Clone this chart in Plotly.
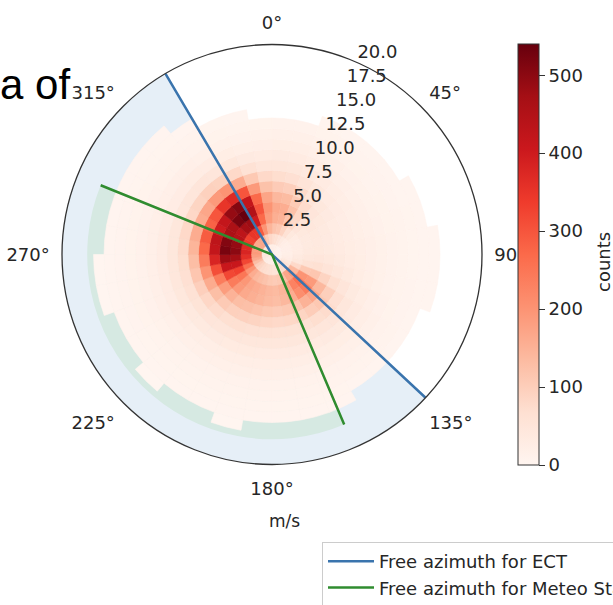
import plotly.graph_objects as go

# ---------------- data ----------------
speed_edges = list(range(0, 19))            # m/s bin edges
dir_centers = list(range(5, 360, 10))       # direction bin centres (deg)
dir_width = 10

counts = [
    [22, 70, 120, 155, 165, 140, 105, 72, 48, 34, 24, 16, 10, 0, 0, 0, 0, 0],   # 5
    [22, 65, 112, 148, 158, 133, 98, 66, 45, 32, 22, 15, 9, 0, 0, 0, 0, 0],     # 15
    [18, 50, 90, 118, 124, 106, 78, 54, 38, 27, 18, 12, 8, 4, 0, 0, 0, 0],      # 25
    [15, 35, 60, 78, 84, 74, 55, 42, 31, 22, 15, 10, 6, 3, 0, 0, 0, 0],         # 35
    [12, 25, 40, 50, 55, 50, 42, 32, 25, 18, 12, 8, 5, 3, 0, 0, 0, 0],          # 45
    [10, 20, 30, 40, 45, 40, 34, 28, 22, 16, 11, 7, 5, 3, 0, 0, 0, 0],          # 55
    [10, 18, 28, 35, 40, 36, 30, 25, 20, 15, 11, 8, 5, 3, 2, 0, 0, 0],          # 65
    [10, 18, 28, 35, 38, 34, 30, 25, 20, 16, 12, 8, 6, 4, 2, 0, 0, 0],          # 75
    [10, 20, 30, 38, 40, 36, 32, 27, 22, 18, 13, 9, 6, 4, 3, 2, 0, 0],          # 85
    [12, 22, 35, 45, 48, 42, 36, 30, 24, 18, 13, 9, 6, 4, 3, 2, 0, 0],          # 95
    [14, 28, 45, 60, 65, 55, 45, 35, 27, 20, 14, 10, 7, 5, 3, 2, 0, 0],         # 105
    [15, 40, 80, 110, 115, 90, 68, 50, 36, 26, 18, 12, 8, 5, 3, 0, 0, 0],       # 115
    [18, 60, 140, 200, 190, 140, 98, 66, 46, 32, 22, 15, 10, 6, 3, 0, 0, 0],    # 125
    [20, 80, 190, 260, 240, 170, 112, 75, 50, 35, 24, 16, 10, 6, 3, 0, 0, 0],   # 135
    [20, 75, 170, 230, 210, 150, 102, 70, 48, 34, 24, 16, 10, 6, 3, 0, 0, 0],   # 145
    [18, 60, 130, 170, 160, 120, 88, 60, 44, 32, 22, 15, 10, 6, 4, 2, 0, 0],    # 155
    [18, 55, 110, 145, 140, 110, 82, 58, 44, 32, 22, 15, 10, 7, 4, 2, 0, 0],    # 165
    [18, 55, 105, 135, 130, 105, 80, 58, 44, 32, 22, 15, 10, 7, 4, 2, 0, 0],    # 175
    [20, 60, 110, 140, 135, 110, 84, 60, 45, 32, 22, 15, 10, 7, 4, 2, 0, 0],    # 185
    [20, 65, 120, 150, 145, 118, 90, 64, 46, 33, 22, 15, 10, 7, 4, 2, 1, 0],    # 195
    [22, 70, 130, 160, 155, 125, 94, 67, 47, 33, 22, 15, 10, 7, 4, 2, 0, 0],    # 205
    [22, 75, 140, 170, 165, 130, 97, 68, 48, 34, 23, 15, 10, 7, 4, 2, 0, 0],    # 215
    [25, 85, 160, 195, 190, 150, 108, 74, 50, 35, 23, 15, 10, 7, 4, 2, 1, 0],   # 225
    [30, 100, 200, 250, 240, 185, 128, 84, 56, 38, 25, 16, 11, 7, 4, 2, 0, 0],  # 235
    [35, 130, 260, 330, 320, 240, 162, 98, 60, 42, 28, 18, 12, 8, 5, 2, 0, 0],  # 245
    [40, 160, 320, 410, 410, 310, 200, 115, 66, 44, 28, 18, 12, 8, 5, 2, 1, 0], # 255
    [45, 180, 360, 470, 480, 380, 240, 130, 70, 45, 28, 18, 12, 8, 5, 2, 1, 0], # 265
    [45, 190, 380, 500, 520, 420, 270, 145, 75, 46, 28, 18, 12, 8, 5, 2, 0, 0], # 275
    [45, 185, 370, 490, 510, 430, 290, 160, 80, 46, 28, 18, 12, 8, 5, 2, 0, 0], # 285
    [40, 170, 340, 440, 460, 400, 280, 160, 82, 46, 28, 18, 12, 8, 4, 2, 0, 0], # 295
    [40, 165, 330, 430, 460, 420, 300, 170, 88, 48, 28, 18, 11, 7, 4, 2, 0, 0], # 305
    [40, 170, 350, 470, 520, 490, 350, 190, 95, 50, 30, 18, 11, 7, 4, 2, 0, 0], # 315
    [40, 170, 350, 480, 540, 510, 370, 200, 92, 48, 28, 16, 10, 6, 3, 0, 0, 0], # 325
    [35, 140, 290, 400, 450, 420, 300, 160, 80, 42, 24, 14, 8, 4, 0, 0, 0, 0],  # 335
    [28, 100, 200, 270, 300, 270, 190, 110, 60, 34, 20, 12, 7, 3, 0, 0, 0, 0],  # 345
    [24, 80, 145, 185, 200, 172, 122, 80, 48, 32, 21, 14, 8, 0, 0, 0, 0, 0],    # 355
]

ect_azimuth = [329.5, 133.0]     # free azimuth limits for ECT (deg)
meteo_azimuth = [292.0, 157.0]   # free azimuth limits for Meteo Station (deg)
ect_rmax = 20.0
meteo_rmax = 17.6

radial_ticks = [2.5, 5.0, 7.5, 10.0, 12.5, 15.0, 17.5, 20.0]
radial_label_angle = 24
angular_ticks = [0, 45, 90, 135, 180, 225, 270, 315]
angular_labels = ["0°", "45°", "90", "135°", "180°", "225°", "270°", "315°"]
cbar_ticks = [0, 100, 200, 300, 400, 500]
cmax = 540

# ---------------- build cells ----------------
th, base, rr, col = [], [], [], []
for i, d in enumerate(dir_centers):
    for j in range(len(speed_edges) - 1):
        c = counts[i][j]
        if c > 0:
            th.append(d)
            base.append(speed_edges[j])
            rr.append(speed_edges[j + 1] - speed_edges[j])
            col.append(c)

FONT = "DejaVu Sans"
TXT = "#262626"

fig = go.Figure()

def sector(a_start, a_end, rmax, color):
    span = (a_end - a_start) % 360
    centre = (a_start + span / 2) % 360
    return go.Barpolar(theta=[centre], r=[rmax], base=[0], width=[span],
                       marker=dict(color=color, line=dict(width=0)),
                       showlegend=False, hoverinfo="skip")

# shaded free-azimuth sectors
fig.add_trace(sector(ect_azimuth[1], ect_azimuth[0], ect_rmax, "#e6eff7"))
fig.add_trace(sector(meteo_azimuth[1], meteo_azimuth[0], meteo_rmax, "#d6e9e2"))

fig.add_trace(go.Barpolar(
    theta=th, base=base, r=rr, width=[dir_width] * len(th),
    marker=dict(color=col, colorscale="Reds", cmin=0, cmax=cmax,
                line=dict(width=0.6, color=col, colorscale="Reds", cmin=0, cmax=cmax),
                colorbar=dict(
                    tickvals=cbar_ticks, ticks="outside", ticklen=6, tickcolor="#333",
                    tickfont=dict(family=FONT, size=18, color=TXT),
                    thickness=21, lenmode="pixels", len=421,
                    x=518 / 613, xanchor="left", y=1 - 254.5 / 605, yanchor="middle",
                    xpad=0, ypad=0, outlinecolor="#333", outlinewidth=1)),
    showlegend=False, hoverinfo="skip"))

fig.add_trace(go.Scatterpolar(
    r=[ect_rmax, 0, ect_rmax], theta=[ect_azimuth[0], 0, ect_azimuth[1]],
    mode="lines", line=dict(color="#3a74ad", width=2.5),
    name="Free azimuth for ECT"))
fig.add_trace(go.Scatterpolar(
    r=[meteo_rmax, 0, meteo_rmax], theta=[meteo_azimuth[0], 0, meteo_azimuth[1]],
    mode="lines", line=dict(color="#2f8c2f", width=2.5),
    name="Free azimuth for Meteo Station"))

# radial tick labels (horizontal, matplotlib style)
fig.add_trace(go.Scatterpolar(
    r=radial_ticks, theta=[radial_label_angle] * len(radial_ticks),
    mode="text", text=[f"{v:.1f}" for v in radial_ticks],
    textposition="top right", cliponaxis=False,
    textfont=dict(family=FONT, size=18, color=TXT),
    showlegend=False, hoverinfo="skip"))

fig.update_layout(
    width=613, height=605,
    paper_bgcolor="white", plot_bgcolor="white",
    margin=dict(l=0, r=0, t=0, b=0, autoexpand=False),
    font=dict(family=FONT, size=18, color=TXT),
    polar=dict(
        domain=dict(x=[62 / 613, 482 / 613], y=[1 - 465 / 605, 1 - 44 / 605]),
        bgcolor="white",
        barmode="overlay",
        angularaxis=dict(rotation=90, direction="clockwise",
                         tickmode="array", tickvals=angular_ticks, ticktext=angular_labels,
                         showgrid=False, ticks="outside", ticklen=8, tickcolor="rgba(0,0,0,0)",
                         linecolor="#333", linewidth=1.3,
                         tickfont=dict(family=FONT, size=18, color=TXT)),
        radialaxis=dict(range=[0, 20], showticklabels=False,
                        showgrid=False, showline=False, ticks=""),
    ),
    legend=dict(x=322 / 613, xanchor="left", y=1 - 542 / 605, yanchor="top",
                bgcolor="white", bordercolor="#cccccc", borderwidth=1,
                font=dict(family=FONT, size=18, color=TXT), itemwidth=46,
                tracegroupgap=0),
    annotations=[
        dict(text="m/s", x=284 / 613, y=1 - 521 / 605, xref="paper", yref="paper",
             showarrow=False, xanchor="center", yanchor="middle",
             font=dict(family=FONT, size=17, color=TXT)),
        dict(text="counts", x=603 / 613, y=1 - 262 / 605, xref="paper", yref="paper",
             showarrow=False, xanchor="center", yanchor="middle", textangle=-90,
             font=dict(family=FONT, size=18, color=TXT)),
        dict(text="a of", x=72 / 613, y=1 - 110 / 605, xref="paper", yref="paper",
             showarrow=False, xanchor="right", yanchor="bottom",
             font=dict(family="Liberation Sans", size=42, color="black")),
    ],
)

fig.write_html("out.html", config={"displayModeBar": False},
               post_script="document.body.style.margin='0';")
